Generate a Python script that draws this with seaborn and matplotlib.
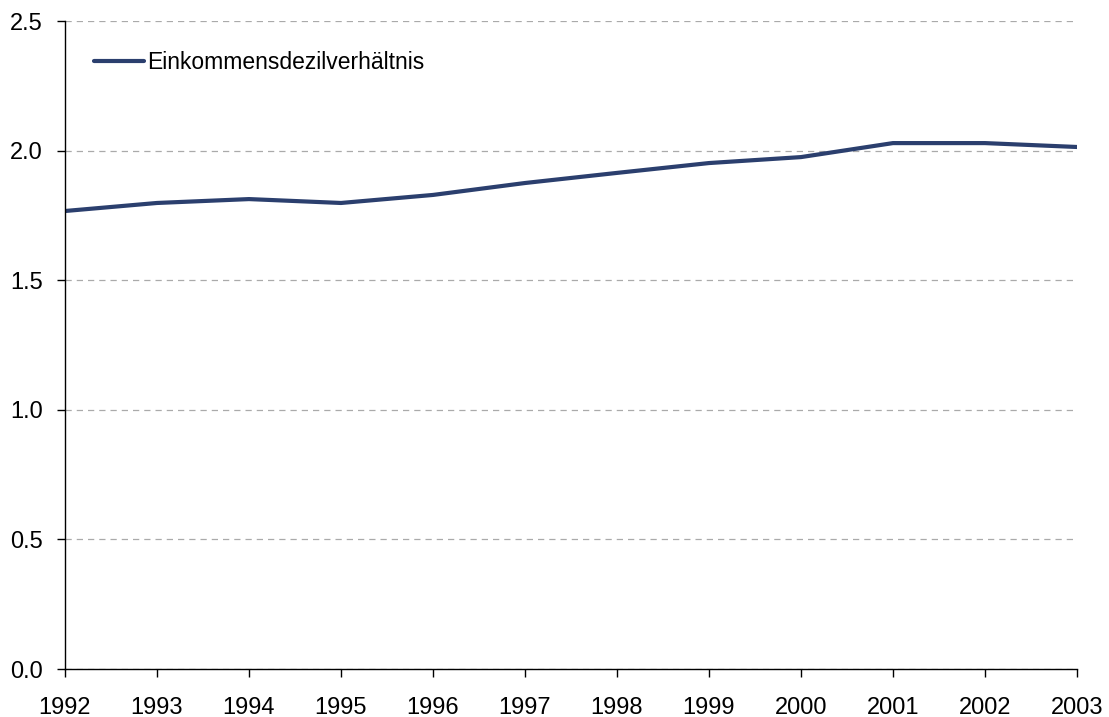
import matplotlib
matplotlib.use("Agg")
import matplotlib.pyplot as plt
import seaborn as sns
import pandas as pd

years = [1992, 1993, 1994, 1995, 1996, 1997, 1998, 1999, 2000, 2001, 2002, 2003]
values = [1.767, 1.798, 1.813, 1.798, 1.829, 1.875, 1.914, 1.952, 1.975, 2.029, 2.029, 2.014]
series_name = "Einkommensdezilverhältnis"
y_ticks = [0.0, 0.5, 1.0, 1.5, 2.0, 2.5]

sns.set_style("white")
plt.rcParams['font.family'] = ['Liberation Sans', 'DejaVu Sans']
plt.rcParams['text.color'] = '#000000'

df = pd.DataFrame({"Jahr": years, "Wert": values, "Serie": series_name})

fig = plt.figure(figsize=(11.09, 7.17), dpi=100)
ax = fig.add_axes([0.0586, 0.0669, 0.9125, 0.9038])

sns.lineplot(data=df, x="Jahr", y="Wert", hue="Serie", palette=["#2B3F6E"],
             linewidth=3, ax=ax)

ax.set_xlim(years[0], years[-1])
ax.set_ylim(0, 2.5)
ax.set_xticks(years)
ax.set_xticklabels([str(y) for y in years])
ax.set_yticks(y_ticks)
ax.set_yticklabels([f"{t:.1f}" for t in y_ticks])
ax.set_xlabel("")
ax.set_ylabel("")

ax.yaxis.grid(True, linestyle=(0, (5, 4)), color="#AAAAAA", linewidth=0.9)
ax.xaxis.grid(False)
ax.set_axisbelow(True)

for s in ["top", "right"]:
    ax.spines[s].set_visible(False)
for s in ["left", "bottom"]:
    ax.spines[s].set_color("#000000")
    ax.spines[s].set_linewidth(1.0)

ax.tick_params(axis="both", which="major", direction="out", length=6, width=1,
               color="#000000", labelsize=17, labelcolor="#000000",
               bottom=True, left=True)
ax.tick_params(axis="x", pad=14)
ax.tick_params(axis="y", pad=10)

leg = ax.legend(loc="upper left", bbox_to_anchor=(0.008, 0.985), frameon=False,
                fontsize=16.5, handlelength=2.2, handletextpad=0.15)
for t in leg.get_texts():
    t.set_color("#000000")

fig.savefig("out.png", dpi=100)
